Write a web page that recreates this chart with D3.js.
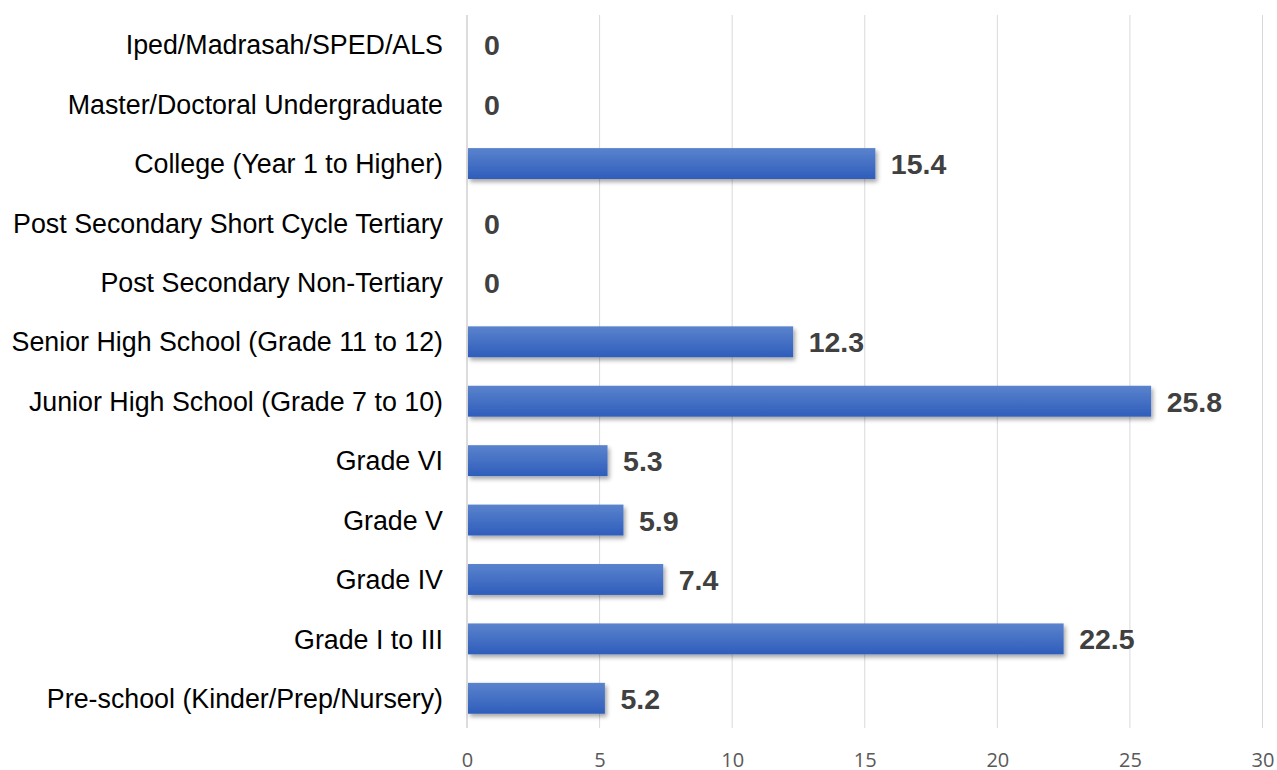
<!DOCTYPE html>
<html><head><meta charset="utf-8">
<script src="https://cdn.jsdelivr.net/npm/d3@7"></script>
<style>body{margin:0;background:#fff;}</style>
</head><body>
<svg id="c" width="1277" height="770"></svg>
<script>
const categories = ["Iped/Madrasah/SPED/ALS","Master/Doctoral Undergraduate","College (Year 1 to Higher)","Post Secondary Short Cycle Tertiary","Post Secondary Non-Tertiary","Senior High School (Grade 11 to 12)","Junior High School (Grade 7 to 10)","Grade VI","Grade V","Grade IV","Grade I to III","Pre-school (Kinder/Prep/Nursery)"];
const values = [0,0,15.4,0,0,12.3,25.8,5.3,5.9,7.4,22.5,5.2];
const xTicks = [0,5,10,15,20,25,30];

(function(){
const svg = d3.select("#c");
const pL = 467, pR = 1262.5, pT = 15, pB = 728;
const x = d3.scaleLinear().domain([0,30]).range([pL,pR]);
const y = d3.scaleBand().domain(categories).range([pT,pB]).paddingInner(0.48).paddingOuter(0.24);

const defs = svg.append("defs");
const g = defs.append("linearGradient").attr("id","bg").attr("x1",0).attr("y1",0).attr("x2",0).attr("y2",1);
g.append("stop").attr("offset","0%").attr("stop-color","#5b83cd");
g.append("stop").attr("offset","100%").attr("stop-color","#2e5dbb");
const f = defs.append("filter").attr("id","sh").attr("x","-10%").attr("y","-30%").attr("width","130%").attr("height","190%");
f.append("feDropShadow").attr("dx",2).attr("dy",3).attr("stdDeviation",2).attr("flood-color","#000").attr("flood-opacity",0.35);

svg.append("g").selectAll("line").data(xTicks).join("line")
  .attr("x1",d=>x(d)).attr("x2",d=>x(d)).attr("y1",pT).attr("y2",pB)
  .attr("stroke",d=>d===0?"#d0d0d0":"#d9d9d9").attr("stroke-width",d=>d===0?1.5:1);

const xa = svg.append("g").attr("transform",`translate(0,${pB})`)
  .call(d3.axisBottom(x).tickValues(xTicks).tickSize(0).tickPadding(25));
xa.select(".domain").remove();
xa.selectAll("text").attr("font-family","'Open Sans', sans-serif").attr("font-size",20).attr("fill","#595959");

svg.append("g").selectAll("text").data(categories).join("text")
  .attr("x",443).attr("y",d=>y(d)+y.bandwidth()/2).attr("dy","0.36em")
  .attr("text-anchor","end").attr("font-family","Arial, 'Liberation Sans', sans-serif")
  .attr("font-size",26.8).attr("fill","#000").text(d=>d);

const barData = categories.map((c,i)=>({c, v: values[i]})).filter(d=>d.v>0);
svg.append("g").selectAll("rect").data(barData).join("rect")
  .attr("x",x(0)+1).attr("y",d=>y(d.c))
  .attr("width",d=>x(d.v)-x(0)-1)
  .attr("height",y.bandwidth())
  .attr("fill","url(#bg)").attr("filter","url(#sh)");

svg.append("g").selectAll("text").data(categories).join("text")
  .attr("x",(d,i)=>x(values[i])+ (values[i]>0?15.5:17))
  .attr("y",d=>y(d)+y.bandwidth()/2).attr("dy","0.37em")
  .attr("font-family","Arial, 'Liberation Sans', sans-serif").attr("font-weight","bold")
  .attr("font-size",28.5).attr("fill","#404040")
  .text((d,i)=>values[i]);
})();
</script>
</body></html>
